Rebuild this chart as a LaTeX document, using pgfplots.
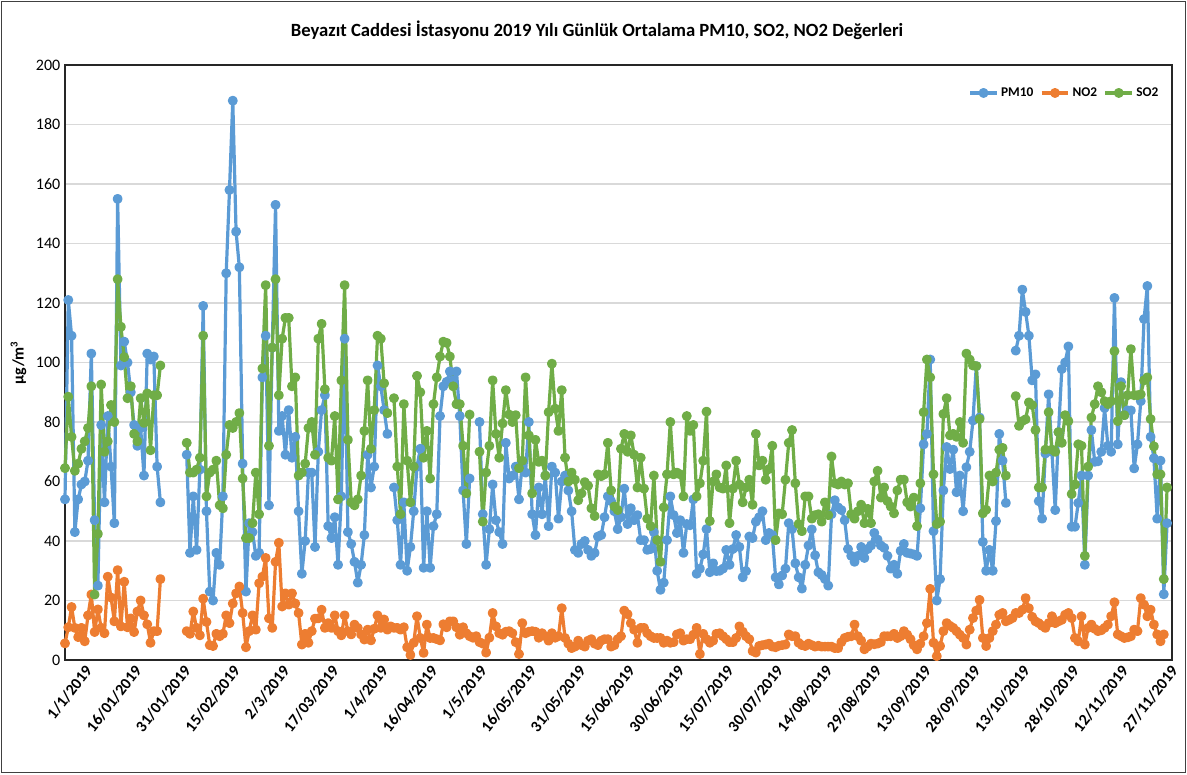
\documentclass[border=0pt]{standalone}
\usepackage{fontspec}
\setmainfont{Carlito}
\usepackage{pgfplots}
\pgfplotsset{compat=1.18}
\usepackage{pgfplotstable}

\definecolor{pmblue}{HTML}{5B9BD5}
\definecolor{noorange}{HTML}{ED7D31}
\definecolor{sogreen}{HTML}{70AD47}

% d = day of 2019 (0 = 1 Jan), nan = no measurement
\pgfplotstableread{
d pm no so
0 54 5.6 64.5
1 121 11 88.5
2 109 17.8 75
3 43 10.8 63.6
4 54 7.7 66
5 59 10.8 71
6 60 6.3 73.5
7 67 15 78
8 103 22 92
9 47 9.4 22
10 25 17 42.4
11 79 10.8 92.6
12 53 9 70
13 82 28 73.5
14 65 21 85.7
15 46 13 80
16 155 30.2 128
17 99 11.3 112
18 107 26.3 101.8
19 100 11 88
20 90 14 92
21 79 9.4 76
22 72 16.3 73.5
23 78 20 88
24 62 15 79.7
25 103 12 89.6
26 101 5.8 70.5
27 102 9.7 89
28 65 9.7 89
29 53 27.2 99
30 nan nan nan
31 nan nan nan
32 nan nan nan
33 nan nan nan
34 nan nan nan
35 nan nan nan
36 nan nan nan
37 69 9.7 73
38 36 8.8 63
39 55 16.3 63
40 37 10.8 64
41 64 8.3 68
42 119 20.6 109
43 50 12.8 55
44 23 5 63
45 20 4.7 64
46 36 8.8 67
47 32 8 52
48 55 8.8 51
49 130 15 69
50 158 12.4 79
51 188 19 78
52 144 22.4 80
53 132 24.7 83
54 66 15.8 61
55 23 4.3 41
56 46 9.7 41
57 43 15 46
58 35 10.2 63
59 36 25.8 49
60 95 28 98
61 109 34.3 126
62 52 14 72
63 105 10.8 105
64 153 33 128
65 77 39.4 89
66 82 18 108
67 69 22.4 115
68 84 18.6 115
69 68 22.4 92
70 75 19 95
71 50 15.8 62
72 29 5.2 63
73 40 8.8 66
74 63 5.8 78
75 63 9.7 80
76 38 13.9 69
77 70 14 108
78 84 16.9 113
79 89 10.8 91
80 45 12.4 68
81 41 10.8 67
82 48 15 82
83 32 9.7 54
84 55 8.3 94
85 108 15 126
86 43 9.7 74
87 39 8.6 53
88 33 11.9 52
89 26 10.8 54
90 32 8.6 62
91 42 6.9 77
92 69 10.2 94
93 58 6.6 71
94 65 10.5 84
95 99 15 109
96 92 10.8 108
97 84 13.6 93
98 76 10.2 83
99 nan 11.3 nan
100 58 10.8 88
101 47 10.8 65
102 32 10.2 49
103 53 11 86
104 30 4.3 67
105 38 1.7 53
106 50 5.8 65
107 65 14.7 95.5
108 71 7.4 90
109 31 2.4 68
110 50 11.9 77
111 31 7.4 61
112 45 7.4 86
113 49 7 95
114 82 6.6 102
115 92 12 107
116 93.5 11 106.6
117 97 13 102
118 94 13 92
119 97 11 86
120 82 8.5 86
121 57 11 72
122 39 9 56
123 61 8 82.5
124 nan 7.5 nan
125 nan 8 nan
126 80 6 70
127 49 5.5 46.5
128 32 2.5 63
129 44 7.5 72
130 59 15.8 94
131 47 11.3 76
132 43 9 68
133 39 8.5 79.5
134 73 9.5 90.7
135 61 9.7 82.5
136 62 9 80
137 65 6 82.3
138 54 2 64.5
139 66 12.4 67
140 63 9 95
141 80 9.5 75.5
142 49 9.7 56
143 42 9.5 74
144 58 7.5 66.6
145 49 9 67
146 62 8 62
147 45 6.5 83.3
148 65 9 99.6
149 63 7.5 84.5
150 47.5 8 77
151 60 17.4 90.7
152 62 7.4 68
153 57 5.5 60
154 50 4 63
155 37 4.5 60.6
156 36 6.5 53.7
157 39 5 56
158 40 4.5 59.8
159 37 6.5 58.6
160 35 7 51
161 36 5.5 48.4
162 41.5 5 62.4
163 42 6.5 61.8
164 48 7 62.4
165 55 7 73
166 53.4 4.5 57
167 50 5 51.6
168 44 7 50.4
169 48 8 71
170 57.6 16.6 76
171 45.7 15.4 70
172 51 12.4 75.5
173 47 10.2 69
174 48.7 5.8 58
175 40.3 10.8 68
176 40.3 10.8 57.6
177 37 9 47.5
178 37.3 8 45
179 43 7.4 62
180 30 7.4 40.3
181 23.6 7.4 33
182 26 5.8 51.3
183 40.3 6.5 62.4
184 55 5.8 80
185 48.7 6 62.4
186 42.7 8.6 63
187 47 9 62.4
188 36 6.5 55
189 45.7 7 82
190 45.3 7 77
191 54 8.5 79
192 29 10.8 55
193 30.7 2 59.4
194 35.5 8.8 67
195 44 7 83.5
196 29.5 5.8 46.7
197 32.5 6.5 60
198 29.9 8.8 62.4
199 30 9 58
200 30.7 8 57.6
201 37 7 65.4
202 32 6 46
203 37.3 6 57.6
204 42 7.4 67
205 38 11.3 59
206 27.8 9.5 53
207 29.9 8 58
208 41.5 7 60.6
209 41 3 52.2
210 46.5 2.5 76
211 48 4.7 65.4
212 50 5 67
213 40.3 5.2 60.6
214 42.7 5.5 64.2
215 42 4.5 72
216 27.8 4.3 40.3
217 25.4 4.8 49.3
218 28.4 5 49
219 30.7 5.2 60.6
220 46 8.6 73
221 44 8 77.3
222 32.5 8 59.4
223 27.8 5.8 45.7
224 24 5 43.3
225 32 4.7 55
226 38.5 5.5 55
227 43.9 5 47.5
228 35.2 4.5 48.7
229 29.5 4.8 49
230 28.6 4.5 46.5
231 27.2 4.5 53
232 25 4.5 48.7
233 49 4.5 68.4
234 53.7 4 59.4
235 51.3 4 59
236 50.4 6 60
237 47 7.4 59
238 37.3 7.8 59.4
239 35 8 49
240 33 11.9 47.5
241 35 8 50
242 38 6.5 52.2
243 34.3 3.6 46
244 37.3 4.5 50.8
245 38.5 5.5 46
246 42.7 5.3 60
247 40.5 5.5 63.6
248 38.5 6 54.6
249 37.7 8 58
250 35 8 53.4
251 30.7 8 51.6
252 32 8.8 49.3
253 29 7.4 57
254 36.7 8 60.6
255 39 9.7 60.6
256 36 8.5 53
257 35.8 7 51.6
258 35.5 5 54.6
259 35 3.6 45
260 51 5.5 59.4
261 72.5 8 83.3
262 76 12.4 101
263 101 23.9 95
264 43.3 5.8 62.4
265 20 1.3 45.7
266 27.2 4.7 46.5
267 57 9.7 82.7
268 71.6 12.4 88
269 64.2 11.5 75.5
270 70.7 10.8 76
271 56.4 9.7 75
272 62 8.5 80
273 50 7.4 73
274 64.8 5.2 103
275 70 10.2 101
276 80.5 14.1 99
277 98.8 16.6 98.8
278 81.5 20.2 81
279 39.7 7.4 49.3
280 30 4.7 50.5
281 37 7.4 62
282 30 9.7 60
283 46.7 11.9 63
284 76 15.2 70.7
285 67 15.8 71.3
286 52.8 13 62
287 nan 13.5 nan
288 nan 14.1 nan
289 104 15.8 88.7
290 109 15.8 78.7
291 124.5 16.9 80.3
292 117 20.8 80.9
293 109 17.4 86.6
294 94 14.5 85.7
295 96 13 77.3
296 53.4 12.4 58
297 47.5 11.5 58
298 69.4 10.8 70.7
299 89.3 12.4 83.3
300 70 14.7 70.7
301 50.4 12.4 70
302 76.6 13 76.6
303 97.8 13.5 73
304 100 15.2 82.3
305 105.4 15.8 80.3
306 44.8 14.1 55.8
307 44.8 7.4 59
308 52.8 6.3 72.5
309 62 14.7 72
310 32 5.2 35
311 62 10.8 65
312 77.3 11.9 81.5
313 66.6 10.5 86
314 66.8 9.7 92
315 70 10 90
316 84.7 10.8 87
317 72 11.9 86
318 70 14.7 87
319 121.7 19.4 103.8
320 72.5 8.6 80.3
321 93.4 8 92
322 82.3 7.4 82.3
323 83.9 7.6 89
324 83.9 8 104.5
325 64.4 10.2 89
326 72.5 9.7 89
327 87 20.8 89.3
328 114.6 18.6 94
329 125.7 14.7 95
330 75 16.9 81
331 67.8 11.9 71.8
332 47.5 8.6 62.4
333 67 6.3 62.4
334 22.1 8.6 27.2
335 46 nan 58
}\aqdata

\begin{document}
\begin{tikzpicture}
\useasboundingbox (-48.75pt,-85.5pt) rectangle (841.5pt,495pt);
\draw[black!75, line width=1.2pt] (-47.6pt,-84.4pt) rectangle (840.4pt,493.9pt);
\begin{axis}[
  at={(0,0)}, anchor=south west,
  scale only axis, width=830.25pt, height=446.25pt,
  xmin=0, xmax=336.5, ymin=0, ymax=200,
  ytick={0,20,...,200},
  xtick={0,15,...,330},
  xticklabels={1/1/2019,16/01/2019,31/01/2019,15/02/2019,2/3/2019,17/03/2019,1/4/2019,16/04/2019,1/5/2019,16/05/2019,31/05/2019,15/06/2019,30/06/2019,15/07/2019,30/07/2019,14/08/2019,29/08/2019,13/09/2019,28/09/2019,13/10/2019,28/10/2019,12/11/2019,27/11/2019},
  xticklabel style={rotate=52, anchor=north east, inner sep=0pt, xshift=6.5pt, yshift=-13pt, font=\bfseries\fontsize{12}{14}\selectfont},
  yticklabel style={font=\fontsize{12}{14}\selectfont},
  /pgf/number format/assume math mode=true,
  major tick length=0pt,
  ymajorgrids, grid style={draw=black!15, line width=0.8pt},
  axis line style={black!85, line width=1pt},
  unbounded coords=jump,
  clip=false,
  ylabel={µg/m\textsuperscript{3}},
  ylabel style={font=\bfseries\fontsize{12}{14}\selectfont, at={(axis description cs:-0.042,0.5)}, anchor=center},
  legend style={at={(axis description cs:0.994,0.953)}, anchor=east, draw=none, fill=none,
    font=\bfseries\fontsize{10}{12}\selectfont, legend columns=3,
    /tikz/every even column/.append style={column sep=3pt}},
  legend image code/.code={\draw[mark repeat=2,mark phase=2] plot coordinates {(0pt,0pt) (10pt,0pt) (20pt,0pt)};},
  every axis plot/.append style={line width=2.4pt, line join=round, mark=*, mark size=2.5pt},
]
\addplot[color=pmblue, mark options={fill=pmblue}] table[x=d,y=pm]{\aqdata};
\addlegendentry{PM10}
\addplot[color=noorange, mark options={fill=noorange}] table[x=d,y=no]{\aqdata};
\addlegendentry{NO2}
\addplot[color=sogreen, mark options={fill=sogreen}] table[x=d,y=so]{\aqdata};
\addlegendentry{SO2}
\end{axis}
\node[font=\bfseries\fontsize{14}{16}\selectfont] at (399pt,472.5pt) {Beyazıt Caddesi İstasyonu 2019 Yılı Günlük Ortalama PM10, SO2, NO2 Değerleri};
\end{tikzpicture}
\end{document}
